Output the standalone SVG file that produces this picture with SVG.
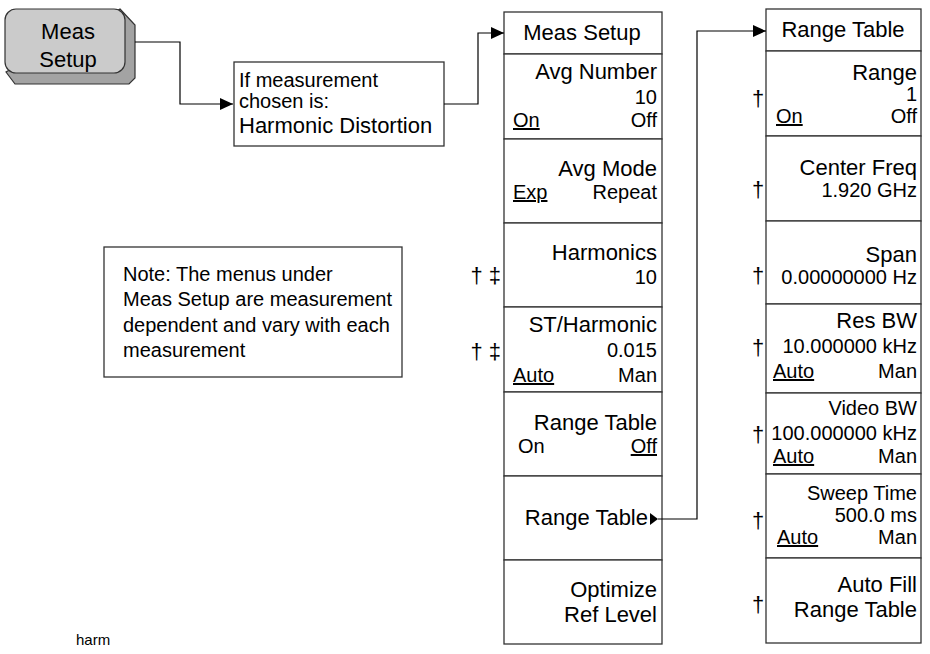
<svg xmlns="http://www.w3.org/2000/svg" width="930" height="654" viewBox="0 0 930 654">
<style>
text{font-family:"Liberation Sans",Arial,Helvetica,sans-serif;fill:#000}
.box{fill:#fff;stroke:#333;stroke-width:1.3}
.conn{fill:none;stroke:#000;stroke-width:1.2}
.t22{font-size:22px}
.t20{font-size:20px}
.r{text-anchor:end}
.c{text-anchor:middle}
.u{text-decoration:underline}
.dag{font-size:22px;text-anchor:middle}
</style>
<defs>
<marker id="arr" markerUnits="userSpaceOnUse" markerWidth="14" markerHeight="13" refX="13" refY="6" orient="auto">
<path d="M0,0 L13,6 L0,12 z" fill="#000"/>
</marker>
</defs>
<rect width="930" height="654" fill="#fff"/>

<g id="key-meas-setup">
<path d="M120,9 L135,25 L135,78 L129,84 L15,84 L6,72 Z" fill="#a3a3a3" stroke="#333" stroke-width="1.2"/>
<rect x="5" y="9" width="120" height="64" rx="11" ry="11" fill="#cbcbcb" stroke="#333" stroke-width="1.2"/>
<text class="t22 c" x="68" y="39">Meas</text>
<text class="t22 c" x="68" y="67">Setup</text>
</g>

<g id="condition">
<rect class="box" x="234" y="62" width="210" height="84"/>
<text class="t20" x="239" y="87">If measurement</text>
<text class="t20" x="239" y="108">chosen is:</text>
<text class="t22" x="239" y="133">Harmonic Distortion</text>
</g>

<g id="note">
<rect class="box" x="104" y="247" width="298" height="130"/>
<text class="t20" x="123" y="281">Note: The menus under</text>
<text class="t20" x="123" y="306">Meas Setup are measurement</text>
<text class="t20" x="123" y="332">dependent and vary with each</text>
<text class="t20" x="123" y="357">measurement</text>
</g>

<g id="menu-meas-setup">
<g id="ms-header">
<rect class="box" x="504" y="12" width="158" height="42"/>
<text class="t22 c" x="582" y="40">Meas Setup</text>
</g>
<g id="ms-avg-number">
<rect class="box" x="504" y="54" width="158" height="85"/>
<text class="t22 r" x="657" y="79">Avg Number</text>
<text class="t20 r" x="657" y="104">10</text>
<text class="t20 u" x="513" y="127">On</text>
<text class="t20 r" x="657" y="127">Off</text>
</g>
<g id="ms-avg-mode">
<rect class="box" x="504" y="139" width="158" height="84"/>
<text class="t22 r" x="657" y="176">Avg Mode</text>
<text class="t20 u" x="513" y="199">Exp</text>
<text class="t20 r" x="657" y="199">Repeat</text>
</g>
<g id="ms-harmonics">
<rect class="box" x="504" y="223" width="158" height="84"/>
<text class="t22 r" x="657" y="260">Harmonics</text>
<text class="t20 r" x="657" y="284">10</text>
<text class="t22 r" x="501" y="283">† ‡</text>
</g>
<g id="ms-st-harmonic">
<rect class="box" x="504" y="307" width="158" height="85"/>
<text class="t22 r" x="657" y="332">ST/Harmonic</text>
<text class="t20 r" x="657" y="357">0.015</text>
<text class="t20 u" x="513" y="382">Auto</text>
<text class="t20 r" x="657" y="382">Man</text>
<text class="t22 r" x="501" y="359">† ‡</text>
</g>
<g id="ms-range-table-onoff">
<rect class="box" x="504" y="392" width="158" height="84"/>
<text class="t22 r" x="657" y="430">Range Table</text>
<text class="t20" x="518" y="453">On</text>
<text class="t20 r u" x="657" y="453">Off</text>
</g>
<g id="ms-range-table">
<rect class="box" x="504" y="476" width="158" height="84"/>
<text class="t22 r" x="648" y="525">Range Table</text>
<path d="M650,513 L658,519 L650,525 Z" fill="#000"/>
</g>
<g id="ms-optimize">
<rect class="box" x="504" y="560" width="158" height="84"/>
<text class="t22 r" x="657" y="597">Optimize</text>
<text class="t22 r" x="657" y="622">Ref Level</text>
</g>
</g>

<g id="menu-range-table">
<g id="rt-header">
<rect class="box" x="766" y="9" width="155" height="42"/>
<text class="t22 c" x="843" y="37">Range Table</text>
</g>
<g id="rt-range">
<rect class="box" x="766" y="51" width="155" height="85"/>
<text class="t22 r" x="917" y="80">Range</text>
<text class="t20 r" x="917" y="101">1</text>
<text class="t20 u" x="776" y="123">On</text>
<text class="t20 r" x="917" y="123">Off</text>
<text class="dag" x="758" y="106">†</text>
</g>
<g id="rt-center-freq">
<rect class="box" x="766" y="136" width="155" height="85"/>
<text class="t22 r" x="917" y="175">Center Freq</text>
<text class="t20 r" x="917" y="197">1.920 GHz</text>
<text class="dag" x="758" y="197">†</text>
</g>
<g id="rt-span">
<rect class="box" x="766" y="221" width="155" height="83"/>
<text class="t22 r" x="917" y="262">Span</text>
<text class="t20 r" x="917" y="284">0.00000000 Hz</text>
<text class="dag" x="758" y="283">†</text>
</g>
<g id="rt-res-bw">
<rect class="box" x="766" y="304" width="155" height="89"/>
<text class="t22 r" x="917" y="328">Res BW</text>
<text class="t20 r" x="917" y="353">10.000000 kHz</text>
<text class="t20 u" x="773" y="378">Auto</text>
<text class="t20 r" x="917" y="378">Man</text>
<text class="dag" x="758" y="355">†</text>
</g>
<g id="rt-video-bw">
<rect class="box" x="766" y="393" width="155" height="81"/>
<text class="t20 r" x="917" y="415">Video BW</text>
<text class="t20 r" x="917" y="440">100.000000 kHz</text>
<text class="t20 u" x="773" y="463">Auto</text>
<text class="t20 r" x="917" y="463">Man</text>
<text class="dag" x="758" y="442">†</text>
</g>
<g id="rt-sweep-time">
<rect class="box" x="766" y="474" width="155" height="84"/>
<text class="t20 r" x="917" y="500">Sweep Time</text>
<text class="t20 r" x="917" y="522">500.0 ms</text>
<text class="t20 u" x="777" y="544">Auto</text>
<text class="t20 r" x="917" y="544">Man</text>
<text class="dag" x="758" y="528">†</text>
</g>
<g id="rt-auto-fill">
<rect class="box" x="766" y="558" width="155" height="85"/>
<text class="t22 r" x="917" y="592">Auto Fill</text>
<text class="t22 r" x="917" y="617">Range Table</text>
<text class="dag" x="758" y="612">†</text>
</g>
</g>

<g id="connectors">
<path class="conn" d="M135,42 H180 V104 H233" marker-end="url(#arr)"/>
<path class="conn" d="M444,104 H478 V33 H504" marker-end="url(#arr)"/>
<path class="conn" d="M658,519 H697 V31 H766" marker-end="url(#arr)"/>
</g>

<text x="76" y="645" style="font-size:15px">harm</text>
</svg>
